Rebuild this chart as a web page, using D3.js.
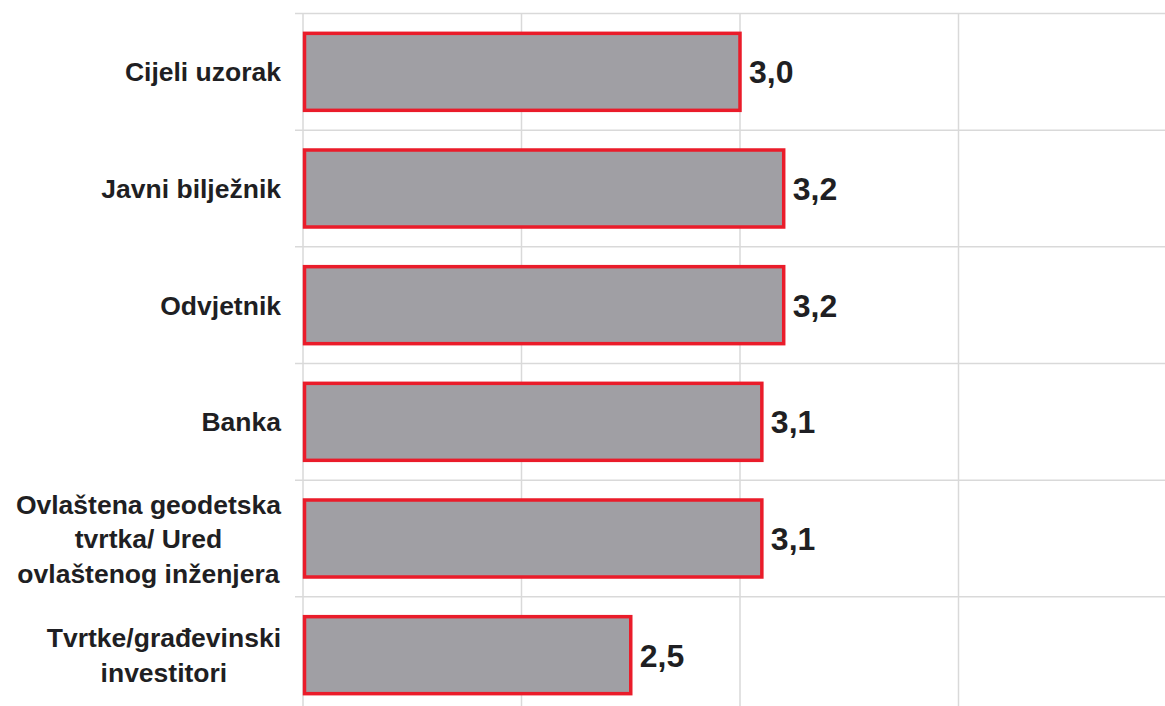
<!DOCTYPE html>
<html><head><meta charset="utf-8">
<script src="https://cdn.jsdelivr.net/npm/d3@7"></script>
<style>html,body{margin:0;padding:0;background:#fff;overflow:hidden}</style>
</head><body>
<svg id="chart" width="1165" height="706"></svg>
<script>
const categories = [
  ["Cijeli uzorak"],
  ["Javni bilježnik"],
  ["Odvjetnik"],
  ["Banka"],
  ["Ovlaštena geodetska", "tvrtka/ Ured", "ovlaštenog inženjera"],
  ["Tvrtke/građevinski", "investitori"]
];
const values = [3.0, 3.2, 3.2, 3.1, 3.1, 2.5];
const valueLabels = ["3,0", "3,2", "3,2", "3,1", "3,1", "2,5"];
const xTicks = [1, 2, 3, 4, 5];

const svg = d3.select("#chart");
const x = d3.scaleLinear().domain([1, 5]).range([303, 1177]);
const y = d3.scaleBand().domain(d3.range(categories.length)).range([13.5, 713.5]).paddingInner(0.34).paddingOuter(0.17);
const step = y.step();

// vertical gridlines
svg.append("g").selectAll("line").data(xTicks).join("line")
  .attr("x1", d => x(d)).attr("x2", d => x(d))
  .attr("y1", 13.5).attr("y2", 713.5)
  .attr("stroke", "#d9d9d9").attr("stroke-width", 1.5);

// horizontal gridlines (row boundaries)
svg.append("g").selectAll("line").data(d3.range(categories.length + 1)).join("line")
  .attr("x1", 295).attr("x2", 1165)
  .attr("y1", d => 13.5 + d * step).attr("y2", d => 13.5 + d * step)
  .attr("stroke", "#d9d9d9").attr("stroke-width", 1.5);

// bars
svg.append("g").selectAll("rect").data(values).join("rect")
  .attr("x", x(1) + 1.5)
  .attr("y", (d, i) => y(i))
  .attr("width", d => x(d) - x(1) - 1.5)
  .attr("height", y.bandwidth())
  .attr("fill", "#a09fa4")
  .attr("stroke", "#ea1c2a").attr("stroke-width", 3.5);

// value labels
svg.append("g").selectAll("text").data(values).join("text")
  .attr("x", d => x(d) + 9)
  .attr("y", (d, i) => y(i) + y.bandwidth() / 2)
  .attr("dy", "0.36em")
  .attr("font-family", "Liberation Sans, Arial, sans-serif")
  .attr("font-weight", "bold").attr("font-size", 32)
  .attr("fill", "#1f1f23")
  .text((d, i) => valueLabels[i]);

// category labels (multi-line, centered lines, block right-aligned)
const lineH = 34.5;
const lg = svg.append("g");
categories.forEach((lines, i) => {
  const cy = y(i) + y.bandwidth() / 2;
  const t = lg.append("text")
    .attr("font-family", "Liberation Sans, Arial, sans-serif")
    .attr("font-weight", "bold").attr("font-size", 26.5)
    .attr("fill", "#1f1f23")
    .attr("text-anchor", "middle");
  const tspans = lines.map((s, j) => t.append("tspan")
    .attr("y", cy + (j - (lines.length - 1) / 2) * lineH)
    .attr("dy", "0.36em").text(s));
  const maxW = d3.max(tspans, ts => ts.node().getComputedTextLength());
  tspans.forEach(ts => ts.attr("x", 281 - maxW / 2));
});
</script>
</body></html>
